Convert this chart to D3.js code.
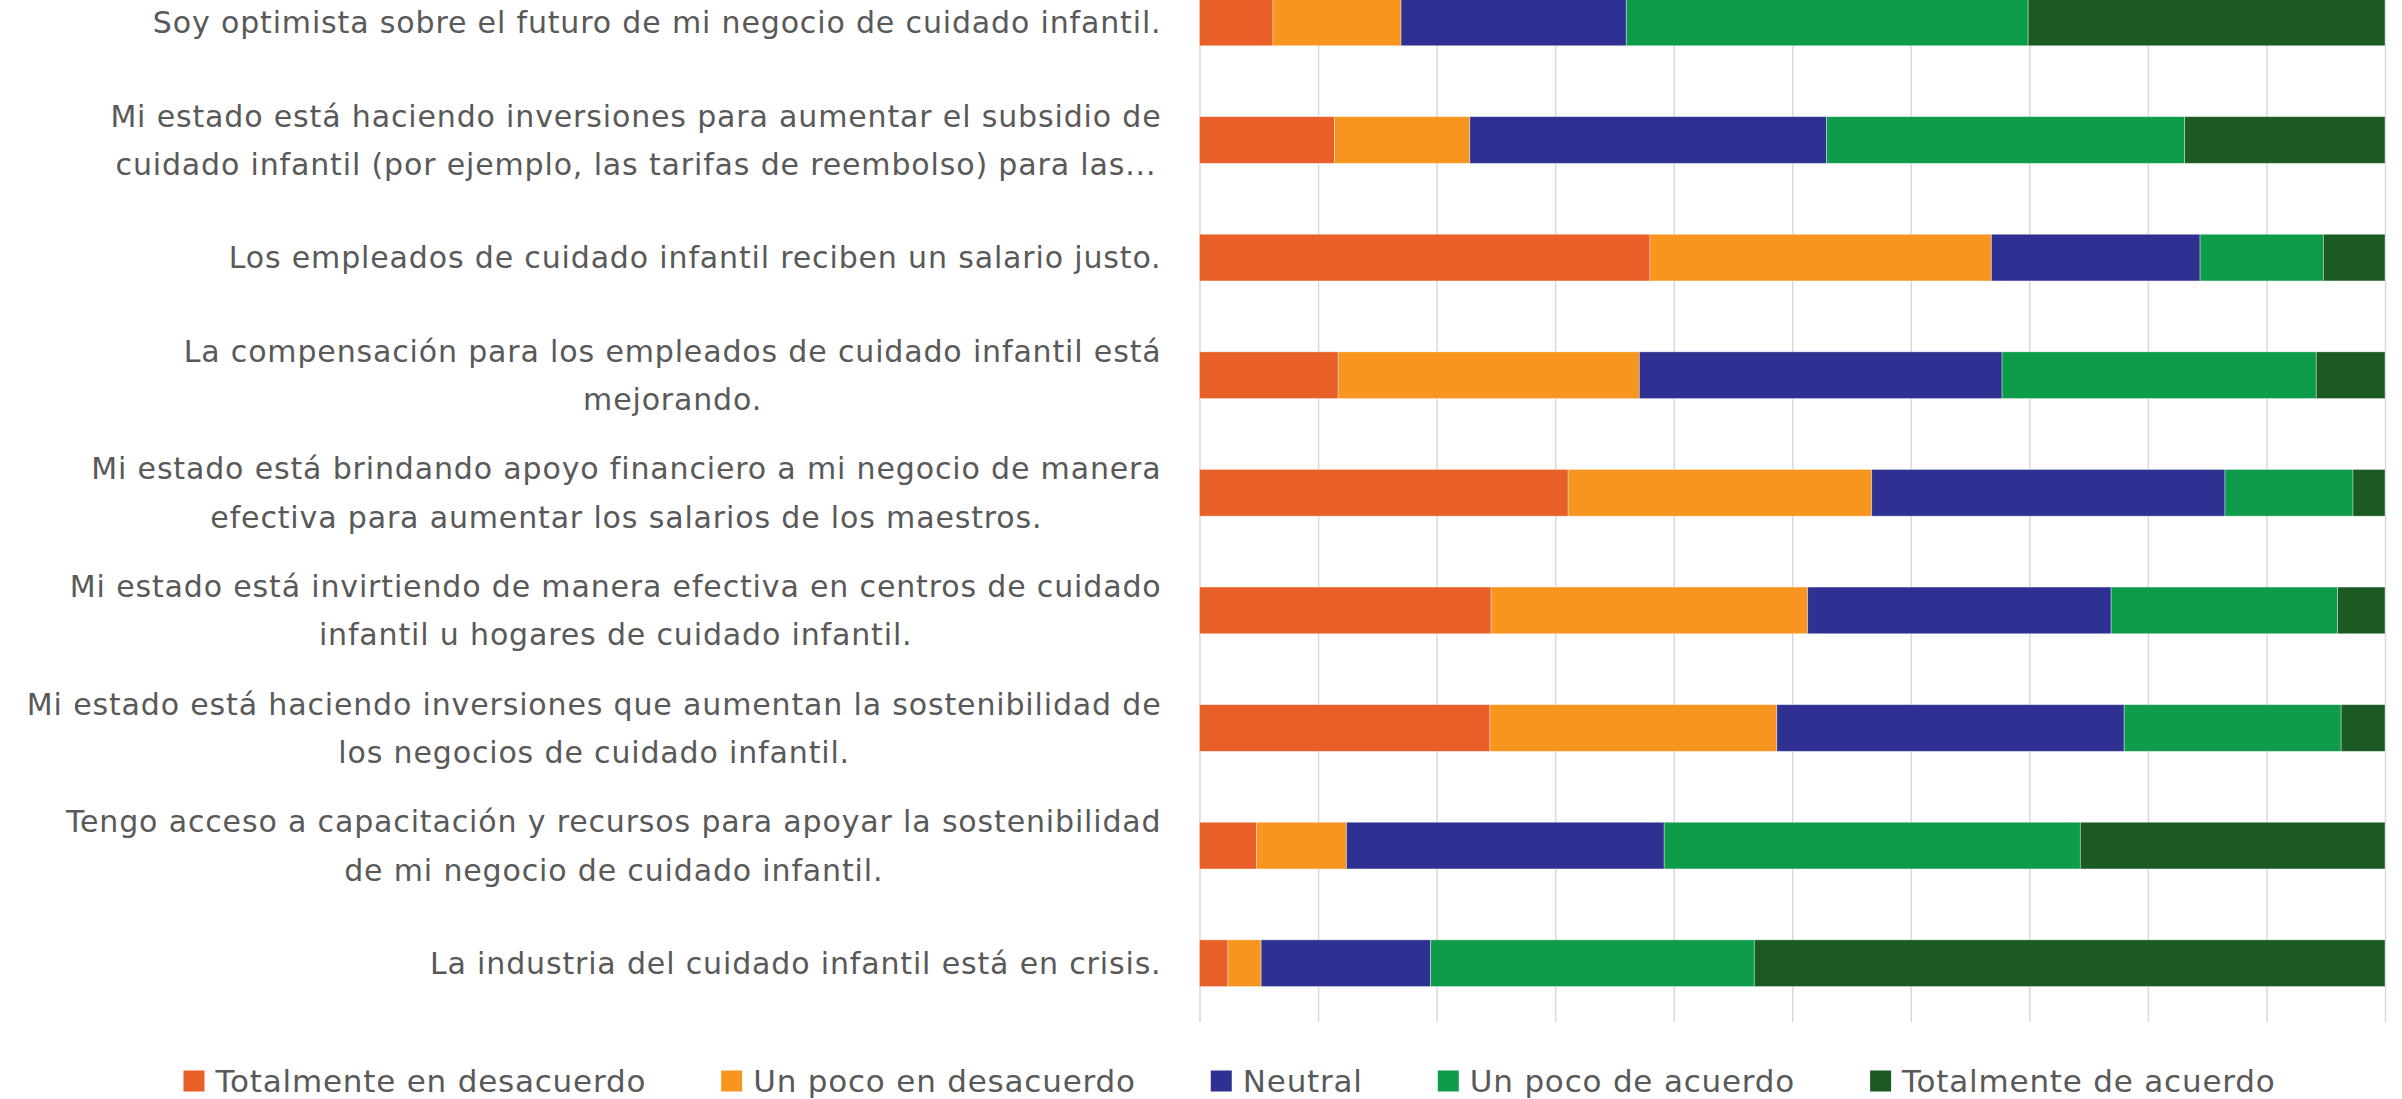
<!DOCTYPE html>
<html>
<head>
<meta charset="utf-8">
<script src="https://cdn.jsdelivr.net/npm/d3@7"></script>
<style>
  body { margin: 0; background: #fff; }
  .chart text { font-family: 'DejaVu Sans', sans-serif; fill: #595959; }
</style>
</head>
<body>
<div class="chart"></div>
<script>
// question labels, already wrapped as in the original
var categories = [
  ['Soy optimista sobre el futuro de mi negocio de cuidado infantil.'],
  ['Mi estado está haciendo inversiones para aumentar el subsidio de', 'cuidado infantil (por ejemplo, las tarifas de reembolso) para las...'],
  ['Los empleados de cuidado infantil reciben un salario justo.'],
  ['La compensación para los empleados de cuidado infantil está', 'mejorando.'],
  ['Mi estado está brindando apoyo financiero a mi negocio de manera', 'efectiva para aumentar los salarios de los maestros.'],
  ['Mi estado está invirtiendo de manera efectiva en centros de cuidado', 'infantil u hogares de cuidado infantil.'],
  ['Mi estado está haciendo inversiones que aumentan la sostenibilidad de', 'los negocios de cuidado infantil.'],
  ['Tengo acceso a capacitación y recursos para apoyar la sostenibilidad', 'de mi negocio de cuidado infantil.'],
  ['La industria del cuidado infantil está en crisis.']
];

var seriesNames = ['Totalmente en desacuerdo', 'Un poco en desacuerdo', 'Neutral', 'Un poco de acuerdo', 'Totalmente de acuerdo'];
var colors = ['#E95F28', '#F7951F', '#2E3192', '#0E9C4B', '#1B5A23'];

// percentages per answer
var totalmenteDesacuerdo = [6.2, 11.4, 38.0, 11.7, 31.1, 24.6, 24.5, 4.8, 2.4];
var pocoDesacuerdo       = [10.8, 11.4, 28.8, 25.4, 25.6, 26.7, 24.2, 7.6, 2.8];
var neutral              = [19.0, 30.1, 17.6, 30.6, 29.8, 25.6, 29.3, 26.8, 14.3];
var pocoAcuerdo          = [33.9, 30.2, 10.4, 26.5, 10.8, 19.1, 18.3, 35.1, 27.3];
var totalmenteAcuerdo    = [30.1, 16.9, 5.2, 5.8, 2.7, 4.0, 3.7, 25.7, 53.2];

var xTicks = d3.range(0, 101, 10);

var W = 2402, H = 1099;
var margin = { top: -36.4, left: 1199.5 };
var width = 1185.5;
var height = 1058.4;

var series = [totalmenteDesacuerdo, pocoDesacuerdo, neutral, pocoAcuerdo, totalmenteAcuerdo];
var rows = categories.map(function (c, i) {
  var r = { idx: i };
  seriesNames.forEach(function (s, k) { r[s] = series[k][i]; });
  return r;
});

var svgRoot = d3.select('.chart')
  .append('svg')
    .attr('width', W)
    .attr('height', H);

var svg = svgRoot.append('g')
    .attr('transform', 'translate(' + margin.left + ', ' + margin.top + ')');

var xScale = d3.scaleLinear()
  .domain([0, 100])
  .range([0, width]);

var yScale = d3.scaleBand()
  .domain(d3.range(categories.length))
  .range([0, height])
  .paddingInner(0.603)
  .paddingOuter(0.3015);

// gridlines
var grid = svg.append('g')
  .attr('transform', `translate(0, ${height})`)
  .call(d3.axisBottom(xScale).tickValues(xTicks).tickSize(-height).tickFormat(''));
grid.select('.domain').remove();
grid.selectAll('line').attr('stroke', '#d9d9d9').attr('stroke-width', 1.5);

// bars (shares of each row's total)
var stacked = d3.stack().keys(seriesNames)(rows);
var rowTotal = d => d3.sum(seriesNames, s => d.data[s]);
stacked.forEach(function (layer, k) {
  svg.append('g')
    .attr('fill', colors[k])
    .selectAll('rect')
    .data(layer)
    .enter()
    .append('rect')
      .attr('x', d => xScale(d[0] * 100 / rowTotal(d)))
      .attr('width', d => xScale((d[1] - d[0]) * 100 / rowTotal(d)))
      .attr('y', d => yScale(d.data.idx))
      .attr('height', yScale.bandwidth())
      .attr('stroke', '#fff')
      .attr('stroke-opacity', 0.45)
      .attr('stroke-width', 0.8);
});

// category labels: block right aligned, lines centred on each other
var lineH = 48.6;
var labels = svg.append('g')
  .selectAll('g')
  .data(categories)
  .enter()
  .append('g')
    .attr('transform', (d, i) => `translate(-38, ${yScale(i) + yScale.bandwidth() / 2})`);

labels.each(function (lines) {
  var g = d3.select(this);
  var texts = g.selectAll('text')
    .data(lines)
    .enter()
    .append('text')
      .attr('text-anchor', 'middle')
      .attr('font-size', 30)
      .attr('letter-spacing', 0.85)
      .attr('y', (d, j) => (j - (lines.length - 1) / 2) * lineH)
      .attr('dy', '0.36em')
      .text(d => d);
  var maxW = d3.max(texts.nodes(), n => n.getComputedTextLength());
  texts.attr('x', -maxW / 2);
});

// legend
var legend = svgRoot.append('g');
var items = legend.selectAll('g')
  .data(seriesNames)
  .enter()
  .append('g');
items.append('rect')
  .attr('width', 21)
  .attr('height', 21)
  .attr('y', -10.5)
  .attr('fill', (d, i) => colors[i]);
items.append('text')
  .attr('x', 32)
  .attr('dy', '0.36em')
  .attr('font-size', 31)
  .attr('letter-spacing', 0.8)
  .text(d => d);

var pos = 0;
items.each(function () {
  var w = this.querySelector('text').getComputedTextLength();
  d3.select(this).attr('transform', `translate(${pos}, 0)`);
  pos += 32 + w + 75;
});
var legendW = pos - 75;
legend.attr('transform', `translate(${1229.5 - legendW / 2}, 1081)`);
</script>
</body>
</html>
